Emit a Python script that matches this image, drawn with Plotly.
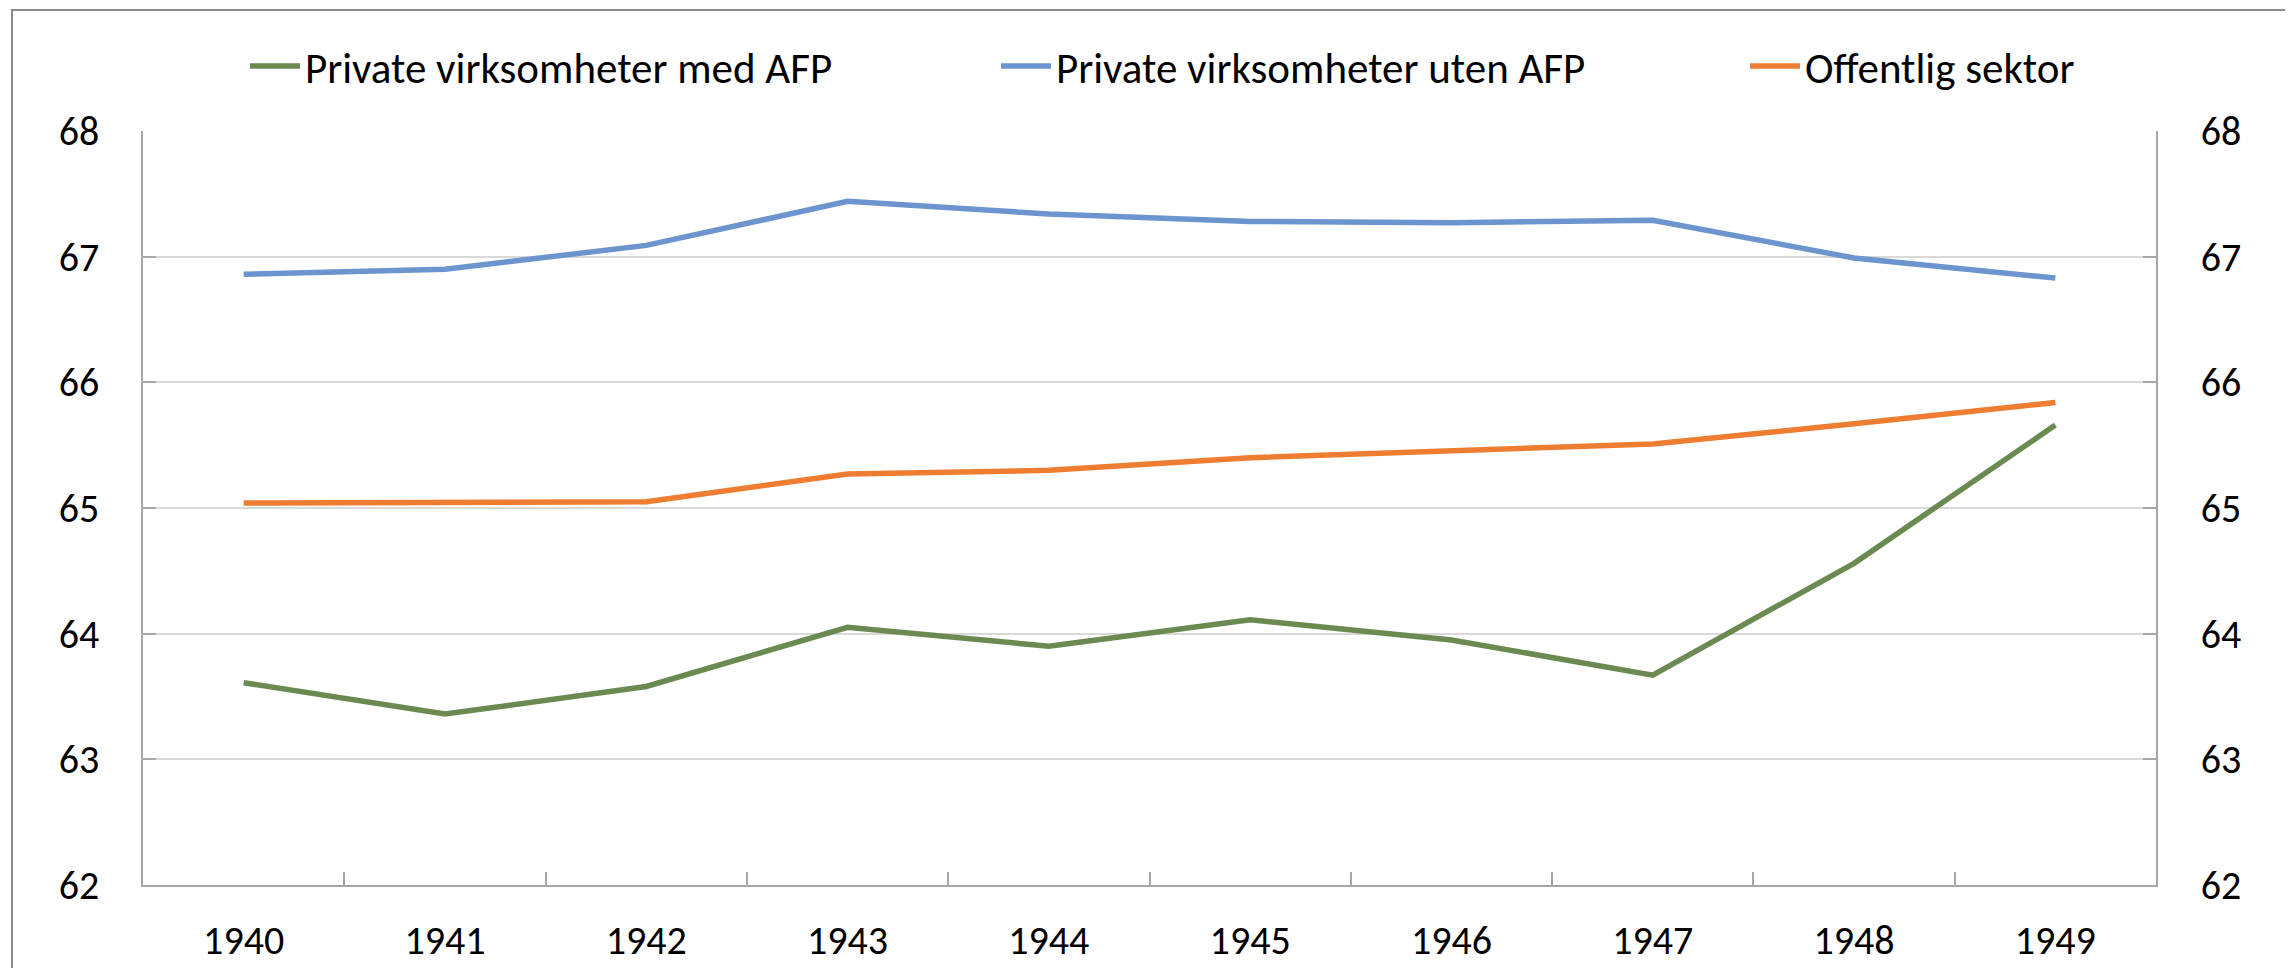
import plotly.graph_objects as go

years = ["1940", "1941", "1942", "1943", "1944", "1945", "1946", "1947", "1948", "1949"]
med_afp = [63.61, 63.36, 63.58, 64.05, 63.90, 64.11, 63.95, 63.67, 64.56, 65.66]
uten_afp = [66.86, 66.90, 67.09, 67.44, 67.34, 67.28, 67.27, 67.29, 66.99, 66.83]
offentlig = [65.04, 65.04, 65.05, 65.27, 65.30, 65.40, 65.45, 65.51, 65.67, 65.84]
y_ticks = [62, 63, 64, 65, 66, 67, 68]

names = ["Private virksomheter med AFP", "Private virksomheter uten AFP", "Offentlig sektor"]
colors = ["#6B8A52", "#6C94CF", "#EE7D31"]
series = [med_afp, uten_afp, offentlig]
legends = ["legend", "legend2", "legend3"]

# page body has a default 8px margin -> figure drawn at (8, 8) in the window
OFF = 8
W, H = 2293 - OFF, 968 - OFF
SX0, SX1, SY0, SY1 = 143, 2156, 131, 885   # plot area in window pixels
ML, MT = SX0 - OFF, SY0 - OFF
MR, MB = W - (SX1 - OFF), H - (SY1 - OFF)
PW, PH = W - ML - MR, H - MT - MB
FONT = "Carlito, Calibri, Lato, sans-serif"
AX = "#a6a6a6"
TICKFONT = dict(family=FONT, size=40, color="#000000")

fig = go.Figure()
for name, col, vals, lg in zip(names, colors, series, legends):
    fig.add_trace(go.Scatter(x=years, y=vals, name=name, mode="lines",
                             line=dict(color=col, width=5.5), legend=lg))
# invisible trace to activate secondary (right) axis
fig.add_trace(go.Scatter(x=years, y=offentlig, yaxis="y2", mode="lines",
                         line=dict(width=0), opacity=0, showlegend=False, hoverinfo="skip"))

def px2x(sx):
    return (sx - SX0) / PW

def py2y(sy):
    return 1 - (sy - SY0) / PH

leg_x = [245, 996, 1745]
leg_common = dict(orientation="h", yanchor="middle", xanchor="left", y=py2y(66),
                  font=dict(family=FONT, size=43, color="#000000"), bgcolor="rgba(0,0,0,0)",
                  borderwidth=0, itemwidth=50)

layout = dict(
    width=W, height=H,
    margin=dict(l=ML, r=MR, t=MT, b=MB, autoexpand=False),
    paper_bgcolor="white", plot_bgcolor="white",
    font=dict(family=FONT, size=40, color="#000000"),
    xaxis=dict(type="category", range=[-0.5, 9.5], tickson="boundaries", automargin=False,
               ticks="inside", ticklen=13, tickcolor=AX, tickwidth=1.5,
               showline=True, linecolor=AX, linewidth=1.5, showgrid=False,
               tickfont=TICKFONT, ticklabelstandoff=19),
    yaxis=dict(range=[62, 68], tickvals=y_ticks, ticks="inside", ticklen=13, automargin=False,
               tickcolor=AX, tickwidth=1.5, showline=True, linecolor=AX, linewidth=1.5,
               gridcolor="#d9d9d9", gridwidth=1.5, zeroline=False,
               tickfont=TICKFONT, ticklabelstandoff=34),
    yaxis2=dict(range=[62, 68], tickvals=y_ticks, overlaying="y", side="right", automargin=False,
                ticks="inside", ticklen=13, tickcolor=AX, tickwidth=1.5,
                showline=True, linecolor=AX, linewidth=1.5, showgrid=False, zeroline=False,
                tickfont=TICKFONT, ticklabelstandoff=35),
    showlegend=True,
    shapes=[dict(type="rect", xref="paper", yref="paper",
                 x0=px2x(12), x1=px2x(2287), y0=py2y(1000), y1=py2y(10),
                 line=dict(color="#8c8c8c", width=2), fillcolor="rgba(0,0,0,0)", layer="below")],
)
for lg, lx in zip(legends, leg_x):
    layout[lg] = dict(leg_common, x=px2x(lx))

fig.update_layout(**layout)
fig.write_html("out.html")
